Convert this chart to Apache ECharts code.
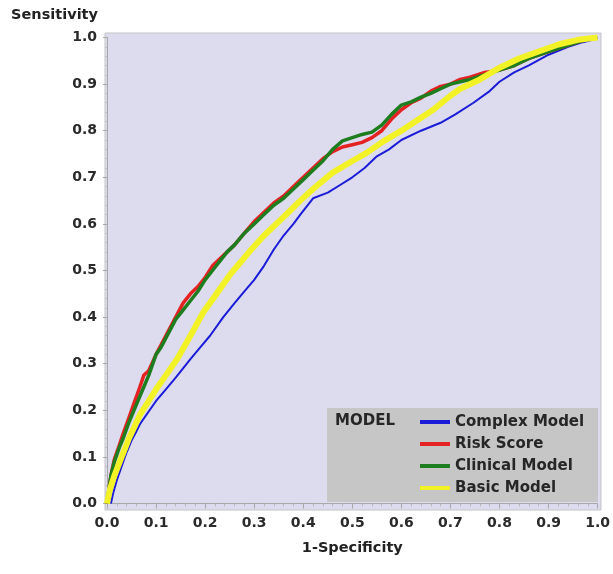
<!DOCTYPE html>
<html>
<head>
<meta charset="utf-8">
<script src="https://cdn.jsdelivr.net/npm/echarts@6/dist/echarts.min.js"></script>
<style>
html,body{margin:0;padding:0;background:#fff;}
#chart{width:613px;height:574px;}
</style>
</head>
<body>
<div id="chart"></div>
<script>
// ---- data ----
const seriesNames = ['Complex Model', 'Risk Score', 'Clinical Model', 'Basic Model'];
const xTickValues = [0, 0.1, 0.2, 0.3, 0.4, 0.5, 0.6, 0.7, 0.8, 0.9, 1.0];
const yTickValues = [0, 0.1, 0.2, 0.3, 0.4, 0.5, 0.6, 0.7, 0.8, 0.9, 1.0];

const complexX = [0.008,0.012,0.02,0.03,0.04,0.05,0.06,0.067,0.08,0.1,0.12,0.14,0.155,0.17,0.19,0.21,0.237,0.26,0.28,0.3,0.32,0.34,0.36,0.38,0.394,0.42,0.45,0.476,0.5,0.525,0.55,0.575,0.6,0.64,0.68,0.71,0.747,0.78,0.8,0.83,0.86,0.9,0.94,0.97,0.99,1.0];
const complexY = [0,0.02,0.05,0.08,0.11,0.135,0.155,0.17,0.19,0.22,0.245,0.27,0.29,0.31,0.335,0.36,0.4,0.43,0.455,0.48,0.51,0.545,0.575,0.6,0.62,0.655,0.667,0.684,0.7,0.72,0.745,0.76,0.78,0.8,0.817,0.835,0.86,0.885,0.905,0.925,0.94,0.963,0.98,0.99,0.995,1.0];

const riskX = [0,0.004,0.008,0.015,0.025,0.033,0.045,0.055,0.067,0.075,0.085,0.1,0.11,0.125,0.14,0.155,0.17,0.185,0.2,0.215,0.23,0.245,0.26,0.28,0.3,0.32,0.34,0.36,0.38,0.4,0.42,0.44,0.46,0.48,0.5,0.52,0.54,0.56,0.58,0.6,0.62,0.64,0.66,0.68,0.7,0.72,0.74,0.77,0.8,0.83,0.86,0.9,0.93,0.96,0.99];
const riskY = [0,0.03,0.06,0.095,0.125,0.15,0.185,0.215,0.25,0.275,0.285,0.32,0.34,0.37,0.4,0.43,0.45,0.465,0.485,0.51,0.525,0.54,0.555,0.58,0.605,0.625,0.645,0.66,0.68,0.7,0.72,0.74,0.755,0.765,0.77,0.775,0.785,0.8,0.825,0.845,0.86,0.87,0.885,0.895,0.9,0.91,0.915,0.925,0.93,0.94,0.955,0.97,0.98,0.99,1.0];

const clinicalX = [0,0.004,0.008,0.015,0.025,0.033,0.045,0.055,0.067,0.075,0.085,0.1,0.11,0.125,0.14,0.155,0.17,0.185,0.2,0.215,0.23,0.245,0.26,0.28,0.3,0.32,0.34,0.36,0.38,0.4,0.42,0.44,0.46,0.48,0.5,0.52,0.54,0.56,0.58,0.6,0.62,0.64,0.66,0.68,0.7,0.72,0.74,0.77,0.8,0.83,0.86,0.9,0.93,0.96,0.99];
const clinicalY = [0,0.03,0.06,0.09,0.12,0.14,0.175,0.2,0.23,0.25,0.275,0.32,0.335,0.365,0.395,0.415,0.435,0.455,0.48,0.5,0.52,0.54,0.555,0.58,0.6,0.62,0.64,0.655,0.675,0.695,0.715,0.735,0.76,0.778,0.785,0.792,0.797,0.812,0.835,0.855,0.862,0.872,0.88,0.89,0.9,0.905,0.91,0.92,0.93,0.94,0.955,0.97,0.98,0.99,1.0];

const basicX = [0,0.006,0.015,0.03,0.045,0.067,0.085,0.1,0.12,0.143,0.17,0.196,0.22,0.25,0.27,0.29,0.32,0.35,0.37,0.394,0.42,0.46,0.5,0.53,0.56,0.6,0.665,0.7,0.72,0.76,0.8,0.84,0.88,0.92,0.96,1.0];
const basicY = [0,0.03,0.06,0.1,0.14,0.19,0.22,0.245,0.275,0.31,0.36,0.41,0.445,0.49,0.515,0.54,0.575,0.605,0.625,0.65,0.675,0.71,0.735,0.753,0.775,0.8,0.845,0.875,0.89,0.91,0.935,0.955,0.97,0.985,0.995,1.0];

const seriesColors = ['#1c1cd8', '#e42222', '#1e7d1e', '#f2f226'];
const seriesWidths = [2, 3.5, 3.5, 6];

function pairs(xs, ys) { return xs.map((x, i) => [x, ys[i]]); }
const seriesData = [
  pairs(complexX, complexY),
  pairs(riskX, riskY),
  pairs(clinicalX, clinicalY),
  pairs(basicX, basicY)
];

const FONT = 'DejaVu Sans';
const chart = echarts.init(document.getElementById('chart'), null, {renderer: 'canvas'});

const option = {
  animation: false,
  backgroundColor: '#ffffff',
  grid: {left: 107, right: 14, top: 37.5, bottom: 70.5, containLabel: false},
  xAxis: {
    type: 'value', min: 0, max: 1, interval: 0.1, offset: 6.5,
    name: '1-Specificity', nameLocation: 'middle', nameGap: 31,
    nameTextStyle: {fontFamily: FONT, fontWeight: 'bold', fontSize: 14.5, color: '#222'},
    axisLine: {show: true, lineStyle: {color: '#a8a8a8', width: 1}},
    axisTick: {show: true, length: 5, lineStyle: {color: '#a8a8a8'}},
    minorTick: {show: true, splitNumber: 5, length: 3, lineStyle: {color: '#b8b8b8'}},
    splitLine: {show: false},
    axisLabel: {margin: 6, fontFamily: FONT, fontWeight: 'bold', fontSize: 14, color: '#2a2a2a',
      formatter: v => xTickValues.some(t => Math.abs(t - v) < 1e-9) ? v.toFixed(1) : ''}
  },
  yAxis: {
    type: 'value', min: 0, max: 1, interval: 0.1, offset: 2,
    axisLine: {show: true, lineStyle: {color: '#a8a8a8', width: 1}},
    axisTick: {show: true, length: 4, lineStyle: {color: '#a8a8a8'}},
    minorTick: {show: true, splitNumber: 5, length: 2, lineStyle: {color: '#c0c0c0'}},
    splitLine: {show: false},
    axisLabel: {margin: 8, fontFamily: FONT, fontWeight: 'bold', fontSize: 14, color: '#2a2a2a',
      formatter: v => yTickValues.some(t => Math.abs(t - v) < 1e-9) ? v.toFixed(1) : ''}
  },
  legend: {
    data: seriesNames,
    orient: 'vertical',
    left: 420, top: 413,
    padding: 0,
    itemWidth: 30, itemHeight: 4, itemGap: 4,
    icon: 'rect',
    selectedMode: false,
    textStyle: {fontFamily: FONT, fontWeight: 'bold', fontSize: 15, color: '#262626', lineHeight: 18}
  },
  graphic: [
    {type: 'rect', z: -1, silent: true, shape: {x: 105, y: 33, width: 496, height: 477},
     style: {fill: '#dcdcee', stroke: '#c4c4c8', lineWidth: 1}},
    {type: 'rect', z: 3, silent: true, shape: {x: 327, y: 408, width: 271, height: 94},
     style: {fill: '#c6c6c6', stroke: 'none'}},
    {type: 'text', z: 4, silent: true, left: 335, top: 414,
     style: {text: 'MODEL', fontFamily: FONT, fontWeight: 'bold', fontSize: 15, fill: '#262626'}},
    {type: 'text', silent: true, right: 613 - 98, top: 8,
     style: {text: 'Sensitivity', fontFamily: FONT, fontWeight: 'bold', fontSize: 14.5, fill: '#222'}}
  ],
  series: seriesNames.map((name, i) => ({
    name: name,
    type: 'line',
    data: seriesData[i],
    showSymbol: false,
    symbol: 'none',
    smooth: false,
    clip: false,
    z: 2 + i,
    color: seriesColors[i],
    lineStyle: {color: seriesColors[i], width: seriesWidths[i], join: 'round'}
  }))
};
chart.setOption(option);
</script>
</body>
</html>
